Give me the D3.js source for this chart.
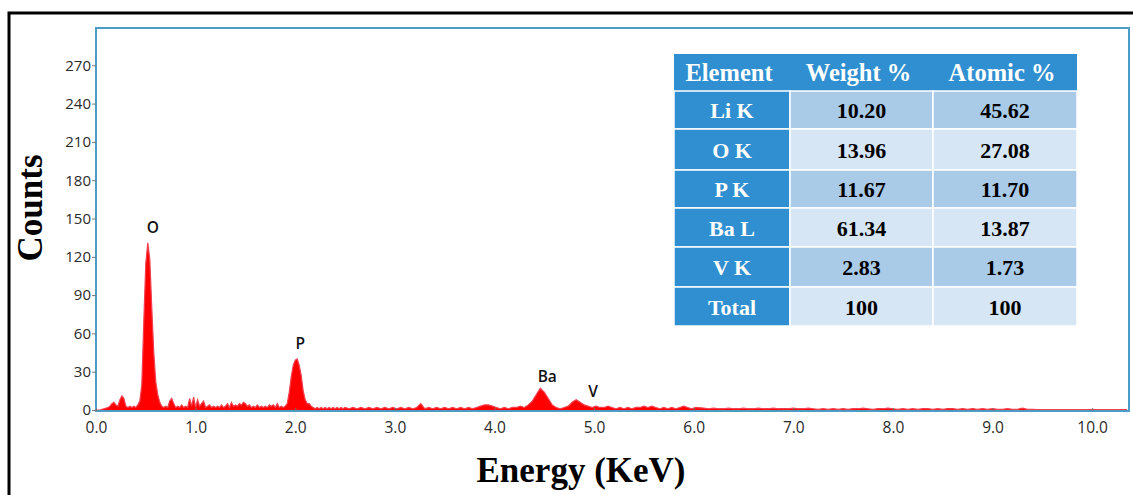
<!DOCTYPE html>
<html lang="en">

<head>
    <meta charset="UTF-8">
    <title>EDS spectrum</title>
    <script src="https://d3js.org/d3.v7.min.js"></script>
    <style>
        body { margin: 0; background: #fff; }
    </style>
</head>

<body>
    <svg width="1133" height="495"></svg>
    <script>
        // spectrum counts, three segments with their own energy step
        let lowStart = 0.00, lowStep = 0.02
        let lowCounts = [0, 0, 0, 0.5, 1, 1.5, 2, 3, 5, 6, 4, 3, 8, 11, 9, 3, 2, 3, 2, 3,
            2, 4, 7, 20, 70, 115, 131, 118, 80, 45, 22, 12, 6, 3, 2, 3, 2, 7, 9, 5,
            2, 3, 2, 4, 2, 3, 2, 9, 3, 10, 2, 8, 3, 5, 7, 2, 3, 4, 2, 3,
            2, 3, 2, 4, 2, 3, 5, 2, 6, 3, 4, 3, 5, 4, 6, 5, 3, 4, 2, 3,
            2, 4, 2, 3, 2, 3, 2, 4, 3, 4, 2, 5, 2, 3, 2, 3, 5, 14, 26, 35,
            39, 40, 35, 27, 15, 8, 5, 5, 3, 2, 1, 2, 1, 2, 1, 2, 1, 2, 1, 2,
            1, 2, 1, 2, 1, 2]
        let midStart = 2.54, midStep = 0.04
        let midCounts = [1, 2, 1, 2, 1, 2, 1, 2, 1, 2, 1, 2, 1, 2, 1, 2, 1, 2, 5, 1,
            2, 1, 2, 1, 2, 1, 2, 1, 2, 1, 2, 1, 2, 3, 4, 4, 3, 2, 1, 2,
            1, 2, 2, 3, 2, 4, 7, 12, 17, 14, 9, 4, 2, 1, 2, 3, 6, 8, 6, 4,
            3, 2, 3, 2, 2, 3, 2, 1, 2, 1, 2, 1, 2, 2, 3, 2, 3, 2, 1, 2,
            1, 2, 1, 2, 3, 2, 1, 2]
        let highStart = 6.10, highStep = 0.05
        let highCounts = [1.5, 1, 1.5, 1, 1, 1.5, 1, 1, 1.5, 1, 1, 1.5, 1, 1, 1.5, 1, 1, 1, 1.5, 1,
            1, 1.5, 1, 0.5, 1, 0.5, 1, 0.5, 1, 0.5, 1, 1, 1.5, 1, 0.5, 1, 1, 1.5, 1, 0.5,
            1, 0.5, 1, 0.5, 1, 1, 0.5, 1, 0.5, 1, 1, 0.5, 1, 0.5, 1, 0.5, 1, 0.5, 1, 0.5,
            0.5, 1, 0.5, 0.5, 1.5, 0.5, 0.5, 0.3, 0.3, 0.3, 0.3, 0.3, 0.3, 0.3, 0.3, 0.3, 0.3, 0.3, 0.3, 0.3,
            0.3, 0.3, 0.3, 0.3, 0.3, 0.3]

        let yTicks = [0, 30, 60, 90, 120, 150, 180, 210, 240, 270]
        let xTicks = [0, 1, 2, 3, 4, 5, 6, 7, 8, 9, 10]

        let peakNames = ["O", "P", "Ba", "V"]
        let peakEnergy = [0.57, 2.05, 4.53, 4.99]
        let peakLabelCounts = [139, 48, 22, 10]

        let elements = ["Li K", "O K", "P K", "Ba L", "V K", "Total"]
        let weightPct = ["10.20", "13.96", "11.67", "61.34", "2.83", "100"]
        let atomicPct = ["45.62", "27.08", "11.70", "13.87", "1.73", "100"]
        let tableHeader = ["Element", "Weight %", "Atomic %"]

        // build spectrum points
        let spectrum = []
        lowCounts.forEach(function (c, i) { spectrum.push([lowStart + i * lowStep, c]) })
        midCounts.forEach(function (c, i) { spectrum.push([midStart + i * midStep, c]) })
        highCounts.forEach(function (c, i) { spectrum.push([highStart + i * highStep, c]) })

        let svg = d3.select("svg")
        let plotLeft = 96, plotRight = 1129, plotTop = 28, plotBottom = 411
        let axisBlue = "#4b9dc6"

        // outer black frame
        svg.append("rect")
            .attr("x", 9).attr("y", 13)
            .attr("width", 1140).attr("height", 500)
            .attr("fill", "#fff")
            .attr("stroke", "#000").attr("stroke-width", 3)

        let x = d3.scaleLinear().domain([0, 10.37]).range([plotLeft, plotRight])
        let y = d3.scaleLinear().domain([0, 300]).range([410, 27])

        // spectrum
        let area = d3.area()
            .x(function (d) { return x(d[0]) })
            .y0(y(0))
            .y1(function (d) { return y(d[1]) })
        let line = d3.line()
            .x(function (d) { return x(d[0]) })
            .y(function (d) { return y(d[1]) })

        svg.append("path")
            .datum(spectrum)
            .attr("d", area)
            .attr("fill", "#ff0000")
        svg.append("path")
            .datum(spectrum)
            .attr("d", line)
            .attr("fill", "none")
            .attr("stroke", "#f2404f")
            .attr("stroke-width", 1.2)

        // plot frame
        svg.append("rect")
            .attr("x", plotLeft).attr("y", plotTop)
            .attr("width", plotRight - plotLeft).attr("height", plotBottom - plotTop)
            .attr("fill", "none")
            .attr("stroke", axisBlue).attr("stroke-width", 2)

        // y axis
        let yAxis = svg.append("g")
            .attr("transform", `translate(${plotLeft},0)`)
            .call(d3.axisLeft(y).tickValues(yTicks).tickSize(4).tickPadding(1))
        yAxis.select(".domain").remove()
        yAxis.selectAll("line").attr("stroke", "#777")
        yAxis.selectAll("text")
            .attr("font-family", "'Open Sans', sans-serif")
            .attr("font-size", 15)
            .attr("fill", "#2a2a2a")

        // x axis (ticks point inward)
        let xAxis = svg.append("g")
            .attr("transform", `translate(0,${plotBottom})`)
            .call(d3.axisBottom(x).tickValues(xTicks).tickFormat(d3.format(".1f")).tickSizeInner(-3).tickSizeOuter(0).tickPadding(11))
        xAxis.select(".domain").remove()
        xAxis.selectAll("line").attr("stroke", "#777")
        xAxis.selectAll("text")
            .attr("font-family", "'Open Sans', sans-serif")
            .attr("font-size", 15.5)
            .attr("fill", "#2a2a2a")

        // peak labels
        svg.selectAll(".peak")
            .data(peakNames)
            .enter()
            .append("text")
            .attr("class", "peak")
            .attr("x", function (d, i) { return x(peakEnergy[i]) })
            .attr("y", function (d, i) { return y(peakLabelCounts[i]) })
            .attr("text-anchor", "middle")
            .attr("font-family", "'Open Sans', sans-serif")
            .attr("font-weight", "600")
            .attr("font-size", 15.5)
            .attr("fill", "#111")
            .text(function (d) { return d })

        // axis titles
        svg.append("text")
            .attr("transform", "translate(42,208) rotate(-90)")
            .attr("text-anchor", "middle")
            .attr("font-family", "'Liberation Serif', serif")
            .attr("font-weight", "bold")
            .attr("font-size", 35)
            .text("Counts")
        svg.append("text")
            .attr("x", 581).attr("y", 482)
            .attr("text-anchor", "middle")
            .attr("font-family", "'Liberation Serif', serif")
            .attr("font-weight", "bold")
            .attr("font-size", 35)
            .text("Energy (KeV)")

        // composition table
        let colEdges = [674, 790, 933, 1077]
        let rowEdges = [54, 91, 129, 170, 208, 247, 287, 326]
        let tableBlue = "#2f8fd0"
        let darkRow = "#a9cbe8", lightRow = "#d6e6f4"
        let table = svg.append("g")

        let cells = []
        tableHeader.forEach(function (t, c) { cells.push({ r: 0, c: c, text: t }) })
        elements.forEach(function (el, i) {
            cells.push({ r: i + 1, c: 0, text: el })
            cells.push({ r: i + 1, c: 1, text: weightPct[i] })
            cells.push({ r: i + 1, c: 2, text: atomicPct[i] })
        })

        table.selectAll("rect")
            .data(cells)
            .enter()
            .append("rect")
            .attr("x", function (d) { return colEdges[d.c] })
            .attr("y", function (d) { return rowEdges[d.r] })
            .attr("width", function (d) { return colEdges[d.c + 1] - colEdges[d.c] })
            .attr("height", function (d) { return rowEdges[d.r + 1] - rowEdges[d.r] })
            .attr("fill", function (d) {
                if (d.r == 0 || d.c == 0) return tableBlue
                return d.r % 2 == 1 ? darkRow : lightRow
            })
            .attr("stroke", function (d) { return d.r == 0 ? "none" : "#fff" })
            .attr("stroke-width", 1.5)

        table.selectAll("text")
            .data(cells)
            .enter()
            .append("text")
            .attr("x", function (d) { return (colEdges[d.c] + colEdges[d.c + 1]) / 2 + (d.r == 0 ? -3 : 0) })
            .attr("y", function (d) { return (rowEdges[d.r] + rowEdges[d.r + 1]) / 2 + 8 })
            .attr("text-anchor", "middle")
            .attr("font-family", "'Liberation Serif', serif")
            .attr("font-weight", "bold")
            .attr("font-size", function (d) { return d.r == 0 ? 24.5 : 22 })
            .attr("fill", function (d) { return (d.r == 0 || d.c == 0) ? "#fff" : "#000" })
            .text(function (d) { return d.text })
    </script>
</body>

</html>
